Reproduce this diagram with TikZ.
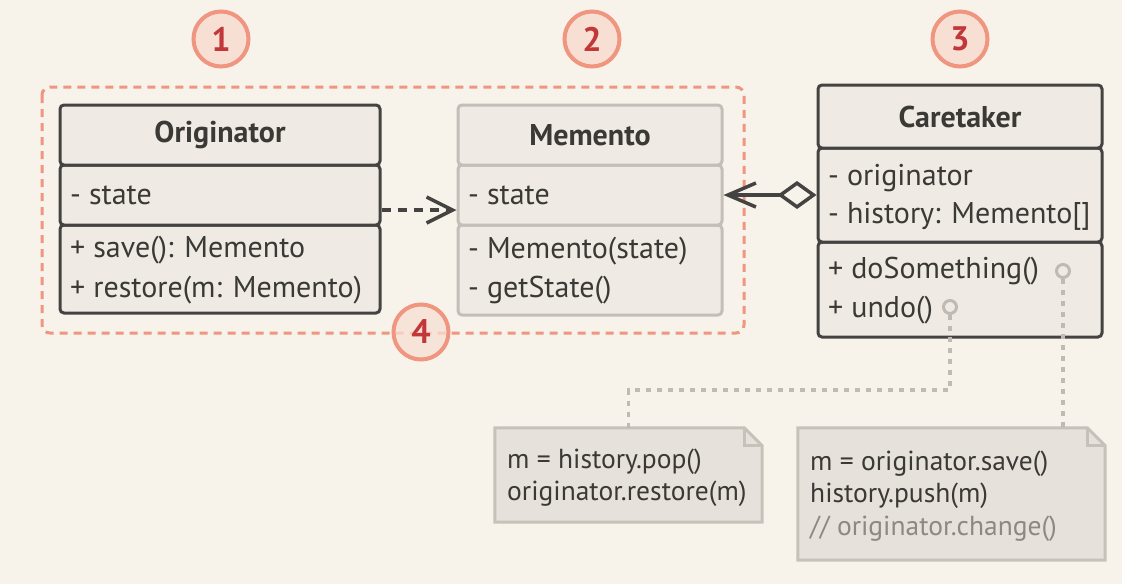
\documentclass[tikz,border=0pt]{standalone}
\usepackage{fontspec}
\setmainfont{PT Sans}
\usetikzlibrary{arrows.meta,calc}
\definecolor{bg}{HTML}{F7F3EA}
\definecolor{boxfill}{HTML}{EFEBE4}
\definecolor{dark}{HTML}{454341}
\definecolor{lightb}{HTML}{C3BFB8}
\definecolor{txt}{HTML}{3B3936}
\definecolor{salmon}{HTML}{EF9580}
\definecolor{circfill}{HTML}{F8DFD4}
\definecolor{numred}{HTML}{C2383A}
\definecolor{notefill}{HTML}{E6E2DB}
\definecolor{noteline}{HTML}{C6C2BA}
\definecolor{linkgray}{HTML}{BFBBB3}
\definecolor{comment}{HTML}{8C8882}
\tikzset{
  sect/.style={draw=dark, fill=boxfill, line width=3pt, rounded corners=4pt, inner sep=0pt},
  lsect/.style={draw=lightb, fill=boxfill, line width=3pt, rounded corners=4pt, inner sep=0pt},
  title/.style={font=\fontsize{30}{34}\selectfont\bfseries, text=txt},
  member/.style={font=\fontsize{30}{34}\selectfont, text=txt, anchor=west, inner sep=0pt},
  notetext/.style={font=\fontsize{27.5}{31}\selectfont, text=txt, anchor=west, inner sep=0pt},
  num/.style={circle, draw=salmon, fill=circfill, line width=4pt, minimum size=55pt, inner sep=0pt,
     font=\fontsize{34}{38}\selectfont\bfseries, text=numred},
  group/.style={draw=salmon, line width=3pt, dash pattern=on 8pt off 6pt, rounded corners=8pt},
  dep/.style={draw=dark, line width=3.5pt, dash pattern=on 9pt off 7pt, -{Straight Barb[length=26pt,width=26pt,line width=3.5pt]}},
  agg/.style={draw=dark, line width=3.5pt, {Straight Barb[length=28pt,width=24pt,line width=3.5pt]}-{Diamond[open,fill=bg,length=39pt,width=28pt,line width=3.5pt]}},
  dot/.style={circle, draw=linkgray, line width=3pt, minimum size=13pt, inner sep=0pt},
  link/.style={draw=linkgray, line width=3.5pt, dash pattern=on 5pt off 6pt},
  note/.style={inner sep=0pt, minimum width=#1},
}
\begin{document}
\begin{tikzpicture}[x=1pt,y=-1pt]
\fill[bg] (0,0) rectangle (1122,584);
\useasboundingbox (0,0) rectangle (1122,584);

% group frame
\draw[group] (42,87) rectangle (744,333);

% Originator
\node[sect, minimum width=320pt, minimum height=88pt] (orig-m) at (220,269) {};
\node[sect, minimum width=320pt, minimum height=60pt] (orig-a) at (220,195) {};
\node[sect, minimum width=320pt, minimum height=60pt] (orig-h) at (220,135) {};
\node[title] (orig-t) at (orig-h) {Originator};
\node[member] (orig-s) at (70,195) {- state};
\node[member] (orig-save) at (70,250) {+ save(): Memento};
\node[member] (orig-rest) at (70,290) {+ restore(m: Memento)};

% Memento
\node[lsect, minimum width=264pt, minimum height=90pt] (mem-m) at (590,270) {};
\node[lsect, minimum width=264pt, minimum height=60pt] (mem-a) at (590,195) {};
\node[lsect, minimum width=264pt, minimum height=60pt] (mem-h) at (590,135) {};
\node[title] (mem-t) at (mem-h) {Memento};
\node[member] (mem-s) at (468,195) {- state};
\node[member] (mem-c) at (468,251) {- Memento(state)};
\node[member] (mem-g) at (468,290) {- getState()};

% Caretaker
\node[sect, minimum width=284pt, minimum height=95pt] (care-m) at (960,289.5) {};
\node[sect, minimum width=284pt, minimum height=94pt] (care-a) at (960,195) {};
\node[sect, minimum width=284pt, minimum height=63pt] (care-h) at (960,116.5) {};
\node[title] (care-t) at (care-h) {Caretaker};
\node[member] (care-o) at (828,178) {- originator};
\node[member] (care-hi) at (828,216) {- history: Memento[]};
\node[member] (care-do) at (828,271) {+ doSomething()};
\node[member] (care-un) at (828,310) {+ undo()};
\node[dot] (dot-do) at (1063,271) {};
\node[dot] (dot-un) at (950,307) {};

% relations
\draw[dep] ([yshift=-15pt]orig-a.east) -- ([yshift=-15pt]mem-a.west);
\draw[agg] (mem-a.east) -- (care-a.west);

% notes
\node[note=267pt, minimum height=94pt] (note1) at (628.5,475) {};
\node[note=307pt, minimum height=132pt] (note2) at (951.5,494) {};
\foreach \n in {note1,note2}{
  \draw[draw=noteline, fill=notefill, line width=3pt, line join=miter]
    (\n.south west) -- (\n.north west) -- ([xshift=-18pt]\n.north east)
    -- ([yshift=-18pt]\n.north east) -- (\n.south east) -- cycle;
  \draw[draw=noteline, line width=3pt, line join=miter]
    ([xshift=-18pt]\n.north east) -- ([xshift=-18pt,yshift=-18pt]\n.north east) -- ([yshift=-18pt]\n.north east);
}
\node[notetext] (n1a) at (507,462) {m = history.pop()};
\node[notetext] (n1b) at (507,494) {originator.restore(m)};
\node[notetext] (n2a) at (810,464) {m = originator.save()};
\node[notetext] (n2b) at (810,496) {history.push(m)};
\node[notetext, text=comment] (n2c) at (810,529) {// originator.change()};

% links
\coordinate (bend1) at (950,390);
\draw[link] (dot-un.south) -- (bend1) -| (note1.north);
\draw[link] (dot-do.south) -- (dot-do.south |- note2.north);

% numbers
\node[num] (n1) at (221,39) {1};
\node[num] (n2) at (592,39) {2};
\node[num] (n3) at (960,39) {3};
\node[num, fill opacity=0.75, text opacity=1] (n4) at (421,332) {4};
\end{tikzpicture}
\end{document}
